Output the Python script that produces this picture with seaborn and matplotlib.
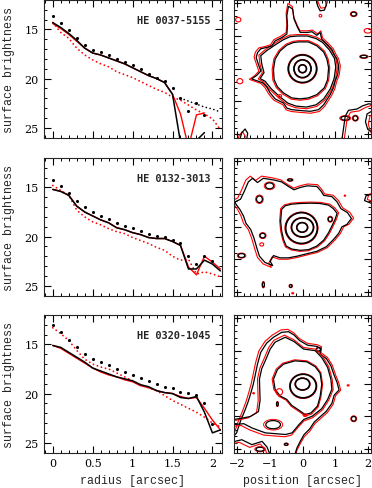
import numpy as np
import matplotlib
matplotlib.use("Agg")
import matplotlib.pyplot as plt
from matplotlib.patches import Ellipse, Polygon
from matplotlib.ticker import MultipleLocator, FuncFormatter
from matplotlib.transforms import Affine2D
import seaborn as sns

# ---------------------------------------
# Radial profiles (surface brightness vs radius)
# ---------------------------------------

radius = [0.0, 0.1, 0.2, 0.3, 0.4, 0.5, 0.6, 0.7, 0.8, 0.9, 1.0,
          1.1, 1.2, 1.3, 1.4, 1.5, 1.6, 1.7, 1.8, 1.9, 2.0, 2.1]

names = ["HE 0037-5155", "HE 0132-3013", "HE 0320-1045"]

# HE 0037-5155
p1_dots = [13.6, 14.3, 15.1, 15.9, 16.6, 17.1, 17.3, 17.6, 18.0, 18.3,
           18.6, 19.0, 19.5, 19.9, 20.2, 21.0, 22.0, 23.3, 22.5, 23.7]
p1_black = [14.3, 14.8, 15.4, 16.1, 16.9, 17.4, 17.6, 17.9, 18.2, 18.5,
            18.9, 19.3, 19.7, 20.0, 20.4, 21.6, 26.5, 28.0, 26.3, 25.5]
p1_red = [14.4, 14.9, 15.5, 16.2, 16.9, 17.4, 17.6, 17.9, 18.2, 18.5,
          18.9, 19.3, 19.7, 20.0, 20.4, 21.6, 23.6, 27.0, 23.7, 23.5]
p1_red_dots = [14.3, 15.3, 15.9, 16.9, 17.6, 18.1, 18.5, 18.8, 19.3, 19.6, 19.9,
               20.3, 20.7, 21.1, 21.4, 21.9, 22.2, 22.7, 23.2, 23.6, 24.1, 25.2]
p1_tail_r = [1.6, 1.7, 1.8, 1.9, 2.0, 2.1]
p1_tail = [22.0, 22.3, 22.6, 22.9, 23.1, 23.4]

# HE 0132-3013
p2_dots = [14.2, 14.9, 15.6, 16.4, 17.0, 17.5, 17.9, 18.2, 18.6, 18.9, 19.1,
           19.4, 19.7, 19.9, 20.0, 20.3, 20.7, 22.0, 22.8, 22.0, 22.5]
p2_black = [15.2, 15.4, 15.8, 16.9, 17.5, 17.9, 18.3, 18.6, 19.1, 19.3, 19.6,
            19.8, 20.1, 20.2, 20.2, 20.5, 20.9, 23.3, 23.3, 22.4, 22.8, 23.5]
p2_red = [15.2, 15.4, 15.8, 16.9, 17.5, 17.9, 18.3, 18.6, 19.1, 19.3, 19.6,
          19.8, 20.1, 20.2, 20.2, 20.5, 20.9, 23.1, 23.9, 22.0, 22.6, 23.3]
p2_red_dots = [14.8, 15.3, 15.8, 17.3, 18.0, 18.5, 18.8, 19.2, 19.5, 19.7, 20.1,
               20.4, 20.7, 21.1, 21.4, 22.0, 22.4, 22.3, 23.8, 23.6, 23.8, 24.1]

# HE 0320-1045
p3_dots = [13.0, 13.7, 14.5, 15.3, 16.0, 16.5, 16.8, 17.1, 17.5, 17.8, 18.1,
           18.4, 18.7, 19.0, 19.3, 19.4, 19.8, 19.9, 20.1, 21.0, 23.1]
p3_black = [15.1, 15.3, 15.8, 16.3, 16.8, 17.4, 17.7, 18.0, 18.3, 18.5, 18.7,
            19.1, 19.3, 19.7, 19.9, 20.0, 20.4, 20.5, 20.3, 21.9, 24.0, 23.7]
p3_red = [15.1, 15.4, 15.9, 16.4, 16.9, 17.4, 17.8, 18.1, 18.3, 18.6, 18.8,
          19.2, 19.4, 19.7, 19.9, 20.0, 20.3, 20.5, 20.4, 21.5, 22.7, 23.7]
p3_red_dots = [13.3, 13.9, 14.6, 15.6, 16.5, 17.0, 17.3, 17.5, 17.9, 18.3, 18.7,
               19.1, 19.4, 19.7, 20.2, 20.7, 21.1, 21.5, 21.9, 22.4, 23.0, 23.4]

# ---------------------------------------
# Contour maps (isophotes, arcsec)
# ---------------------------------------

# inner near-circular isophotes: (cx, cy, width, height)
p1_rings = [(0.0, 0.0, 0.24, 0.24), (0.0, 0.0, 0.52, 0.54), (0.0, 0.0, 0.86, 0.84)]
p2_rings = [(-0.01, -0.02, 0.33, 0.29), (0.0, -0.02, 0.67, 0.58), (-0.03, -0.04, 0.97, 0.94)]
p3_rings = [(0.0, -0.01, 0.44, 0.36), (0.02, -0.07, 0.80, 0.72)]

# closed irregular isophotes
p1_closed = [
    ([-0.12, 0.18, 0.44, 0.65, 0.75, 0.80, 0.77, 0.67, 0.44, 0.18, -0.07, -0.33,
      -0.58, -0.77, -0.87, -0.89, -0.84, -0.69, -0.48, -0.28],
     [0.82, 0.82, 0.70, 0.51, 0.29, 0.03, -0.33, -0.58, -0.79, -0.89, -0.92, -0.89,
      -0.74, -0.55, -0.33, -0.02, 0.29, 0.54, 0.72, 0.80]),
    ([-0.15, 0.15, 0.42, 0.62, 0.82, 0.98, 1.02, 0.97, 0.85, 0.65, 0.42, 0.12, -0.20,
      -0.45, -0.70, -0.95, -1.15, -1.30, -1.18, -1.25, -1.28, -1.10, -0.85, -0.60, -0.38],
     [1.00, 1.00, 0.92, 0.80, 0.58, 0.32, 0.05, -0.30, -0.62, -0.92, -1.10, -1.17, -1.14,
      -1.05, -0.85, -0.62, -0.38, -0.30, -0.12, 0.15, 0.40, 0.55, 0.72, 0.88, 0.98]),
    ([-0.43, -0.30, -0.26, -0.15, -0.07, 0.15, 0.29, 0.44, 0.54, 0.59, 0.75, 0.90,
      0.97, 1.06, 1.11, 1.08, 1.00, 0.95, 0.85, 0.75, 0.65, 0.49, 0.24, -0.02, -0.33,
      -0.48, -0.58, -0.84, -0.99, -1.10, -1.22, -1.56, -1.40, -1.28, -1.35, -1.42,
      -1.38, -1.28, -1.10, -0.94, -0.84, -0.64, -0.48, -0.46, -0.48],
     [1.91, 1.82, 1.52, 1.26, 1.11, 1.11, 1.13, 1.02, 1.11, 0.90, 0.75, 0.59,
      0.44, 0.29, 0.08, -0.17, -0.38, -0.58, -0.79, -0.94, -1.10, -1.25, -1.30, -1.28,
      -1.25, -1.20, -1.05, -0.92, -0.74, -0.55, -0.43, -0.31, -0.20, -0.07, 0.13, 0.34,
      0.49, 0.61, 0.65, 0.70, 0.85, 0.95, 1.06, 1.31, 1.62]),
]
p2_closed = [
    ([-0.64, -0.53, -0.33, -0.07, 0.24, 0.54, 0.80, 0.95, 1.06, 1.00, 0.90, 0.80,
      0.65, 0.44, 0.18, -0.07, -0.33, -0.50, -0.58, -0.64, -0.67],
     [0.53, 0.64, 0.69, 0.71, 0.72, 0.71, 0.66, 0.55, 0.41, 0.23, 0.02, -0.18,
      -0.41, -0.59, -0.70, -0.72, -0.68, -0.59, -0.39, -0.13, 0.17]),
    ([-2.07, -1.90, -1.79, -1.66, -1.53, -1.38, -1.20, -0.89, -0.64, -0.43, -0.26,
      -0.07, 0.15, 0.44, 0.56, 0.65, 0.90, 1.06, 1.18, 1.38, 1.50, 1.36, 1.21, 1.11,
      0.95, 0.73, 0.44, 0.15, -0.17, -0.43, -0.69, -0.89, -0.99, -0.91, -1.15, -1.32,
      -1.40, -1.49, -1.59, -1.73, -1.81, -1.92, -2.04],
     [0.76, 0.84, 1.07, 1.37, 1.48, 1.35, 1.48, 1.43, 1.37, 1.23, 1.13,
      1.20, 1.25, 1.23, 1.10, 0.96, 0.92, 0.76, 0.55, 0.43, 0.25, 0.07, 0.00, -0.20,
      -0.39, -0.61, -0.75, -0.82, -0.90, -0.95, -0.95, -0.88, -1.06, -1.19, -1.09, -0.90,
      -0.65, -0.34, -0.08, 0.10, 0.33, 0.53, 0.69]),
]
p3_closed = [
    ([-0.58, -0.23, 0.13, 0.39, 0.54, 0.59, 0.54, 0.46, 0.26, 0.08, -0.12, -0.33,
      -0.48, -0.69, -0.84, -0.89, -0.77],
     [0.60, 0.70, 0.67, 0.52, 0.32, -0.02, -0.39, -0.68, -0.89, -0.94, -0.80, -0.66,
      -0.48, -0.37, -0.17, 0.14, 0.43]),
]

# isophotes that run out of the frame
p1_open = [
    ([0.42, 0.46, 0.54, 0.67, 0.73, 0.70], [2.15, 1.93, 1.77, 1.79, 1.95, 2.15]),
    ([1.21, 1.26, 1.31, 1.41, 1.67, 1.85, 2.03, 2.15],
     [-2.15, -1.81, -1.45, -1.27, -1.23, -1.13, -1.07, -1.09]),
    ([2.15, 1.98, 1.93, 2.00, 2.15], [-1.28, -1.38, -1.62, -1.85, -1.95]),
    ([-1.92, -1.86, -1.76, -1.68, -1.71], [-2.15, -1.95, -1.84, -1.97, -2.15]),
]
p2_open = [
    ([2.15, 1.95, 1.90, 2.15], [1.00, 0.95, 0.80, 0.70]),
]
p3_open = [
    ([-2.15, -2.02, -1.90, -1.76, -1.66, -1.58, -1.51, -1.45, -1.38, -1.28, -1.10,
      -0.89, -0.64, -0.43, -0.26, -0.09, 0.15, 0.44, 0.56, 0.54, 0.73, 0.87, 0.97,
      1.06, 1.12, 0.97, 0.90, 0.73, 0.54, 0.36, 0.22, 0.05, -0.07, -0.17, -0.23],
     [-1.65, -1.50, -1.14, -0.80, -0.53, -0.27, -0.02, 0.26, 0.60, 0.96, 1.24,
      1.42, 1.57, 1.59, 1.49, 1.32, 1.18, 1.14, 1.08, 0.91, 0.77, 0.55, 0.26,
      0.04, -0.19, -0.35, -0.60, -0.84, -1.01, -1.17, -1.38, -1.55, -1.76, -1.96, -2.15]),
    ([-2.15, -1.86, -1.55, -1.24, -1.09, -1.00],
     [-1.78, -1.71, -1.86, -1.76, -1.93, -2.15]),
    ([-2.15, -1.85, -1.60, -1.35, -1.30, -1.32, -1.25, -1.12, -0.99, -0.84, -0.53,
      -0.26, 0.03, 0.39, 0.59, 0.77, 0.87, 0.90, 0.77, 0.59, 0.30, 0.04, -0.11,
      -0.32, -0.52, -1.14, -1.55, -1.80, -2.15],
     [-1.10, -1.05, -1.00, -0.85, -0.50, 0.14, 0.46, 0.75, 1.06, 1.27, 1.42,
      1.29, 1.06, 1.01, 0.80, 0.50, 0.14, -0.17, -0.48, -0.76, -0.99, -1.09, -1.25,
      -1.50, -1.55, -1.50, -1.35, -1.22, -1.25]),
]

# small isolated isophotes: (cx, cy, width, height)
p1_black_blobs = [(1.57, 1.67, 0.16, 0.12), (1.88, 0.37, 0.20, 0.08),
                  (1.62, -1.51, 0.14, 0.14), (1.31, -1.51, 0.26, 0.12)]
p1_red_blobs = [(-1.97, 1.50, 0.16, 0.14), (-1.92, -0.38, 0.18, 0.16),
                (-0.69, -0.84, 0.10, 0.10), (2.00, 1.16, 0.22, 0.14), (0.55, 1.62, 0.08, 0.08)]
p2_black_blobs = [(-1.32, 0.84, 0.18, 0.20), (-1.01, 1.25, 0.25, 0.18), (-0.38, 1.43, 0.14, 0.06),
                  (-1.22, -0.27, 0.16, 0.14), (0.85, 0.23, 0.12, 0.14), (-1.87, -0.88, 0.20, 0.12),
                  (-1.20, -1.77, 0.06, 0.15), (-0.36, -1.81, 0.08, 0.08)]
p2_red_blobs = [(-1.25, -0.54, 0.12, 0.10), (1.30, 0.95, 0.04, 0.04), (-0.30, -2.03, 0.06, 0.04)]
p3_black_blobs = [(0.49, 1.05, 0.12, 0.10), (1.57, -1.07, 0.14, 0.14), (-0.77, -0.62, 0.05, 0.12),
                  (-0.90, -1.25, 0.45, 0.25), (-0.50, -1.85, 0.10, 0.06), (-1.30, -2.00, 0.25, 0.12)]
p3_red_blobs = [(-0.71, -0.25, 0.20, 0.20), (1.40, -0.05, 0.06, 0.04), (-1.50, -0.29, 0.05, 0.04),
                (0.08, -0.96, 0.12, 0.08)]

profiles = [
    (p1_dots, p1_black, p1_red, p1_red_dots),
    (p2_dots, p2_black, p2_red, p2_red_dots),
    (p3_dots, p3_black, p3_red, p3_red_dots),
]
maps = [
    (p1_rings, p1_closed, p1_open, p1_black_blobs, p1_red_blobs),
    (p2_rings, p2_closed, p2_open, p2_black_blobs, p2_red_blobs),
    (p3_rings, p3_closed, p3_open, p3_black_blobs, p3_red_blobs),
]

# ---------------------------------------
# Style
# ---------------------------------------

sns.set_style("ticks")
plt.rcParams["font.family"] = ["DejaVu Serif"]
plt.rcParams["axes.linewidth"] = 0.8

W, H = 372, 489
fig = plt.figure(figsize=(W / 100, H / 100), dpi=100)

row_tops = [1, 159, 316]
panel_h = 137.5
label_font = dict(family="Liberation Mono", fontsize=8.4)

fmt = FuncFormatter(lambda v, p: f"{v:g}".replace("-", "\u2212"))


def style_axes(ax, show_x):
    ax.tick_params(which="both", direction="in", top=True, right=True,
                   labelsize=8, pad=4, colors="black")
    ax.tick_params(which="major", length=5, width=0.8)
    ax.tick_params(which="minor", length=2.5, width=0.7)
    ax.xaxis.set_major_formatter(fmt)
    if not show_x:
        ax.tick_params(labelbottom=False)


def outline(ax, xs, ys, closed, red_tr):
    # red isophote of the second image sits just outside the black one
    pts = np.column_stack([xs, ys])
    for col, lw, tr in (("red", 0.8, red_tr), ("black", 0.9, ax.transData)):
        if closed:
            ax.add_patch(Polygon(pts, closed=True, fill=False, ec=col,
                                 lw=lw, transform=tr))
        else:
            ax.plot(xs, ys, color=col, lw=lw, transform=tr)


for i in range(3):
    bottom = 1 - (row_tops[i] + panel_h) / H
    last = i == 2

    # ---------------------------------------
    # Left: surface brightness profile
    # ---------------------------------------
    ax = fig.add_axes([44 / W, bottom, 178 / W, panel_h / H])
    dots, black, red, red_dots = profiles[i]

    sns.lineplot(x=radius[:len(red_dots)], y=red_dots, color="red", lw=1.3,
                 linestyle=(0, (0.05, 2.3)), dash_capstyle="round", ax=ax)
    if i == 0:
        sns.lineplot(x=p1_tail_r, y=p1_tail, color="black", lw=1.2,
                     linestyle=(0, (0.05, 2.3)), dash_capstyle="round", ax=ax)
    sns.lineplot(x=radius[:len(red)], y=red, color="red", lw=1.0, ax=ax)
    sns.lineplot(x=radius[:len(black)], y=black, color="black", lw=1.1, ax=ax)
    sns.scatterplot(x=radius[:len(dots)], y=dots, color="black", s=5,
                    linewidth=0, ax=ax, zorder=5)

    ax.set_xlim(-0.11, 2.12)
    ax.set_ylim(26, 12)
    ax.xaxis.set_major_locator(MultipleLocator(0.5))
    ax.xaxis.set_minor_locator(MultipleLocator(0.1))
    ax.yaxis.set_major_locator(MultipleLocator(5))
    ax.yaxis.set_minor_locator(MultipleLocator(1))
    style_axes(ax, last)

    ax.text(0.938, 0.855, names[i], transform=ax.transAxes, ha="right",
            va="center", family="DejaVu Sans Mono", weight="bold", size=7.4)
    ax.set_ylabel("surface brightness", **label_font)
    ax.yaxis.set_label_coords(-0.165, 0.5)
    if last:
        ax.set_xlabel("radius [arcsec]", **label_font)
        ax.xaxis.set_label_coords(0.5, -0.16)
    else:
        ax.set_xlabel("")

    # ---------------------------------------
    # Right: contour map
    # ---------------------------------------
    ax2 = fig.add_axes([234 / W, bottom, 137 / W, panel_h / H])
    rings, closed, opened, bblobs, rblobs = maps[i]
    red_tr = Affine2D().scale(1.045) + ax2.transData

    for xs, ys in closed:
        outline(ax2, xs, ys, True, red_tr)
    for xs, ys in opened:
        outline(ax2, xs, ys, False, red_tr)
    for cx, cy, w, h in rings:
        ax2.add_patch(Ellipse((cx, cy), w, h, fill=False, ec="red", lw=0.8,
                              transform=red_tr))
        ax2.add_patch(Ellipse((cx, cy), w, h, fill=False, ec="black", lw=1.2))
    for cx, cy, w, h in bblobs:
        ax2.add_patch(Ellipse((cx, cy), w * 1.3, h * 1.3, fill=False,
                              ec="red", lw=0.7))
        ax2.add_patch(Ellipse((cx, cy), w, h, fill=False, ec="black", lw=0.9))
    for cx, cy, w, h in rblobs:
        ax2.add_patch(Ellipse((cx, cy), w, h, fill=False, ec="red", lw=0.8))

    ax2.set_xlim(-2.1, 2.1)
    ax2.set_ylim(-2.1, 2.1)
    ax2.xaxis.set_major_locator(MultipleLocator(1))
    ax2.xaxis.set_minor_locator(MultipleLocator(0.2))
    ax2.yaxis.set_major_locator(MultipleLocator(1))
    ax2.yaxis.set_minor_locator(MultipleLocator(0.2))
    style_axes(ax2, last)
    ax2.tick_params(labelleft=False)
    if last:
        ax2.set_xlabel("position [arcsec]", **label_font)
        ax2.xaxis.set_label_coords(0.5, -0.16)

fig.savefig("out.png", dpi=100)
